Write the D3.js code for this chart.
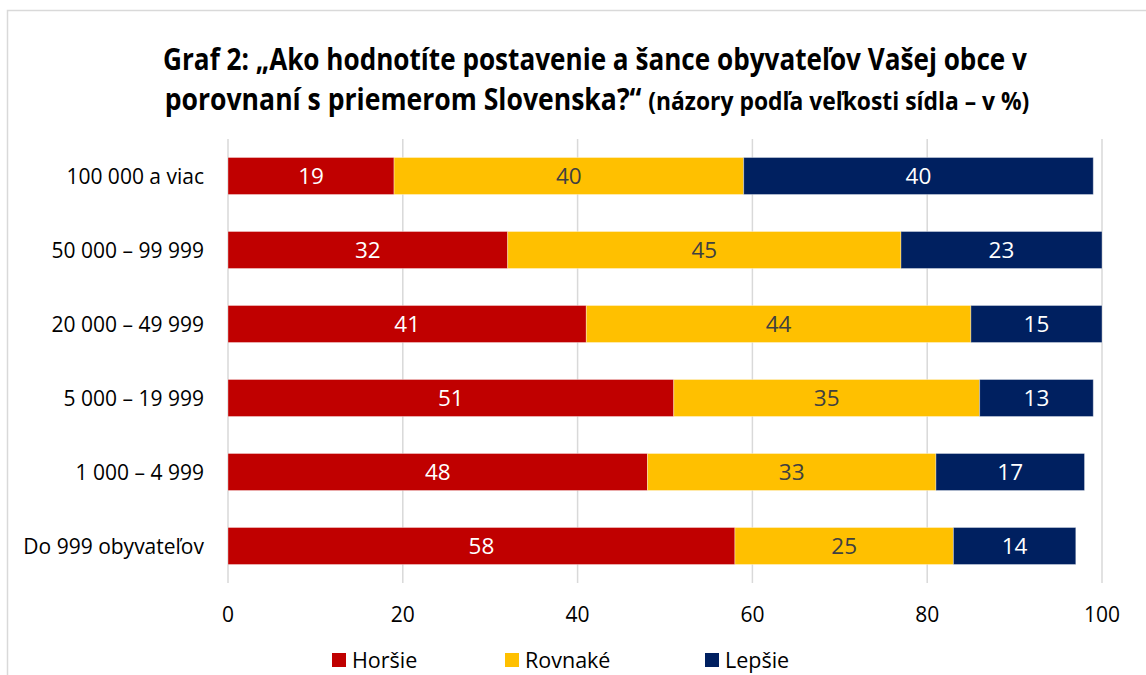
<!DOCTYPE html>
<html>
<head>
<meta charset="utf-8">
<script src="https://cdn.jsdelivr.net/npm/d3@7"></script>
<style>
  body { margin: 0; background: #fff; }
  svg text { font-family: "Open Sans", "Noto Sans", sans-serif; }
</style>
</head>
<body>
<div id="chart"></div>
<script>
const width = 1146;
const height = 675;

// data
const categories = ["100 000 a viac", "50 000 – 99 999", "20 000 – 49 999", "5 000 – 19 999", "1 000 – 4 999", "Do 999 obyvateľov"];
const seriesNames = ["Horšie", "Rovnaké", "Lepšie"];
const horsie  = [19, 32, 41, 51, 48, 58];
const rovnake = [40, 45, 44, 35, 33, 25];
const lepsie  = [40, 23, 15, 13, 17, 14];
const xTicks = [0, 20, 40, 60, 80, 100];
const colors = ["#C00000", "#FFC000", "#002060"];
const labelColors = ["#ffffff", "#404040", "#ffffff"];

const rows = categories.map((c, i) => ({cat: c, "Horšie": horsie[i], "Rovnaké": rovnake[i], "Lepšie": lepsie[i]}));
const stacked = d3.stack().keys(seriesNames)(rows);

const margin = {top: 139, left: 228, right: 44, bottom: 92};

const svg = d3.select("#chart")
  .append("svg")
  .attr("width", width)
  .attr("height", height);

// frame
svg.append("path")
  .attr("d", `M7.5,${height} V10.5 H${width}`)
  .attr("fill", "none")
  .attr("stroke", "#d9d9d9")
  .attr("stroke-width", 1.5);

const x = d3.scaleLinear().domain([0, 100]).range([margin.left, width - margin.right]);
const y = d3.scaleBand().domain(categories).range([margin.top, height - margin.bottom]).paddingInner(0.5).paddingOuter(0.25);

// gridlines
svg.append("g")
  .selectAll("line")
  .data(xTicks)
  .join("line")
  .attr("x1", d => x(d)).attr("x2", d => x(d))
  .attr("y1", margin.top).attr("y2", height - margin.bottom)
  .attr("stroke", "#d9d9d9")
  .attr("stroke-width", 1.5);

// bars
const layer = svg.append("g")
  .selectAll("g")
  .data(stacked)
  .join("g")
  .attr("fill", (d, i) => colors[i]);

layer.selectAll("rect")
  .data(d => d)
  .join("rect")
  .attr("x", d => x(d[0]))
  .attr("y", d => y(d.data.cat))
  .attr("width", d => x(d[1]) - x(d[0]))
  .attr("height", y.bandwidth())
  .attr("stroke", "#ffffff")
  .attr("stroke-opacity", 0.35)
  .attr("stroke-width", 1);

// data labels
stacked.forEach((s, i) => {
  svg.append("g")
    .selectAll("text")
    .data(s)
    .join("text")
    .attr("x", d => (x(d[0]) + x(d[1])) / 2)
    .attr("y", d => y(d.data.cat) + y.bandwidth() / 2)
    .attr("dy", "0.36em")
    .attr("text-anchor", "middle")
    .attr("font-size", 22.5)
    .attr("fill", labelColors[i])
    .text(d => d[1] - d[0]);
});

// category labels
svg.append("g")
  .selectAll("text")
  .data(categories)
  .join("text")
  .attr("x", 204)
  .attr("y", d => y(d) + y.bandwidth() / 2)
  .attr("dy", "0.36em")
  .attr("text-anchor", "end")
  .attr("font-size", 21)
  .attr("fill", "#000")
  .text(d => d);

// x tick labels
svg.append("g")
  .selectAll("text")
  .data(xTicks)
  .join("text")
  .attr("x", d => x(d))
  .attr("y", 614)
  .attr("dy", "0.36em")
  .attr("text-anchor", "middle")
  .attr("font-size", 21)
  .attr("fill", "#000")
  .text(d => d);

// legend
const legendX = [332, 505, 705];
const legend = svg.append("g")
  .selectAll("g")
  .data(seriesNames)
  .join("g")
  .attr("transform", (d, i) => `translate(${legendX[i]},660)`);
legend.append("rect")
  .attr("x", 0).attr("y", -7)
  .attr("width", 14).attr("height", 14)
  .attr("fill", (d, i) => colors[i]);
legend.append("text")
  .attr("x", 20)
  .attr("dy", "0.36em")
  .attr("font-size", 21.5)
  .attr("fill", "#000")
  .text(d => d);

// title: Calibri is narrower, so squeeze a taller font horizontally into the original line widths
function squeeze(sel, cx, cy, target) {
  const w = sel.node().getComputedTextLength();
  sel.attr("transform", `translate(${cx},${cy}) scale(${target / w},1)`);
}

const t1 = svg.append("text")
  .attr("text-anchor", "middle")
  .attr("font-weight", "bold")
  .attr("font-size", 30)
  .attr("fill", "#000")
  .text("Graf 2: „Ako hodnotíte postavenie a šance obyvateľov Vašej obce v");
squeeze(t1, 595, 70, 864);

const t2 = svg.append("text")
  .attr("text-anchor", "middle")
  .attr("font-weight", "bold")
  .attr("fill", "#000")
  .attr("font-size", 30);
t2.append("tspan").text("porovnaní s priemerom Slovenska?“ ");
t2.append("tspan").attr("font-size", "0.86em").text("(názory podľa veľkosti sídla – v %)");
squeeze(t2, 597, 110, 865);
</script>
</body>
</html>
